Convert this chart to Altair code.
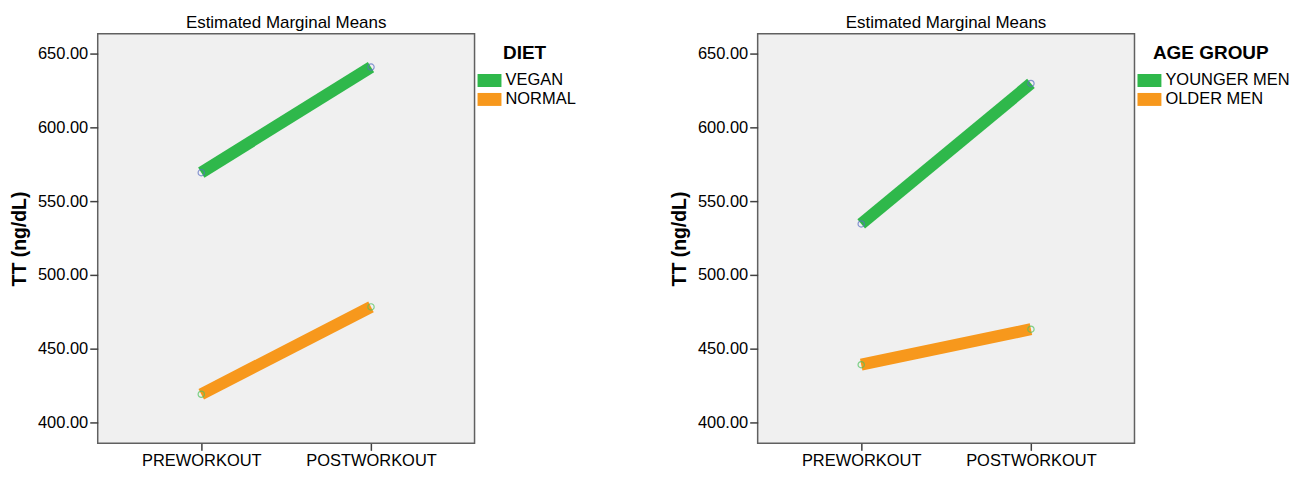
import altair as alt
import pandas as pd

# ---- data ----
times = ["PREWORKOUT", "POSTWORKOUT"]

diet_groups = ["VEGAN", "NORMAL"]
vegan_tt = [569.2, 640.6]
normal_tt = [419.3, 478.4]

age_groups = ["YOUNGER MEN", "OLDER MEN"]
younger_tt = [534.5, 629.5]
older_tt = [439.3, 463.3]

y_ticks = [400, 450, 500, 550, 600, 650]
y_domain = [386.1, 663.2]

line_colors = ["#2fb84b", "#f7981c"]
marker_colors = ["#5a6ec4", "#4fc35c"]

FONT = "Liberation Sans"
W, H = 378, 411


def make_df(groups, series):
    rows = []
    for g, vals in zip(groups, series):
        for t, v in zip(times, vals):
            rows.append({"time": t, "group": g, "tt": v})
    return pd.DataFrame(rows)


def panel(df, groups, legend_title, title_off):
    origin = title_off - 1.5
    x = alt.X(
        "time:N",
        sort=times,
        scale=alt.Scale(type="point", padding=0.61),
        axis=alt.Axis(
            title=None, labelAngle=0, domain=False, ticks=True, tickSize=7,
            tickColor="#404040", tickWidth=1.5, labelPadding=2,
            labelFont=FONT, labelFontSize=16.5, labelColor="black", grid=False,
        ),
    )
    y = alt.Y(
        "tt:Q",
        scale=alt.Scale(domain=y_domain, nice=False, zero=False),
        axis=alt.Axis(
            title="TT (ng/dL)", values=y_ticks, format=".2f", domain=False,
            tickSize=8, tickColor="#404040", tickWidth=1.5, labelPadding=2,
            labelFont=FONT, labelFontSize=16.5, labelColor="black", grid=False,
            titleFont=FONT, titleFontSize=19.5, titleFontWeight="bold",
            titleColor="black", titlePadding=8,
        ),
    )
    # invisible filled layer that carries the legend (filled rectangles)
    legend_src = alt.Chart(df).mark_point(filled=True, opacity=0, shape="square").encode(
        x=x,
        y=y,
        fill=alt.Fill(
            "group:N",
            sort=groups,
            scale=alt.Scale(domain=groups, range=line_colors),
            legend=alt.Legend(
                title=legend_title,
                orient="none", legendX=W + origin, legendY=10, padding=0,
                rowPadding=0, symbolType="M-1.2,-0.65H1.2V0.65H-1.2Z",
                symbolSize=400, symbolStrokeWidth=0, symbolOpacity=1,
                symbolOffset={"expr": str(15 - origin - 10)},
                labelOffset=6,
                titlePadding=8,
                titleFont=FONT, titleFontSize=19, titleFontWeight="bold",
                titleColor="black", labelFont=FONT, labelFontSize=16.5,
                labelColor="black",
            ),
        ),
    )
    lines = alt.Chart(df).mark_line(strokeWidth=12, strokeCap="butt").encode(
        x=x,
        y=y,
        color=alt.Color(
            "group:N",
            sort=groups,
            scale=alt.Scale(domain=groups, range=line_colors),
            legend=None,
        ),
    )
    pts = alt.Chart(df).mark_point(shape="circle", filled=False, size=40, strokeWidth=1.2).encode(
        x=x,
        y=y,
        stroke=alt.Stroke(
            "group:N",
            sort=groups,
            scale=alt.Scale(domain=groups, range=marker_colors),
            legend=None,
        ),
    )
    return alt.layer(legend_src, lines, pts).properties(
        width=W,
        height=H,
        title=alt.TitleParams(
            "Estimated Marginal Means", font=FONT, fontSize=17,
            fontWeight="normal", color="black", anchor="middle", offset=2,
        ),
    )


left = panel(make_df(diet_groups, [vegan_tt, normal_tt]), diet_groups, "DIET", 30)
right = panel(make_df(age_groups, [younger_tt, older_tt]), age_groups, "AGE GROUP", 20)

chart = (
    alt.hconcat(left, right, spacing=90)
    .resolve_scale(color="independent", stroke="independent", fill="independent",
                   y="independent")
    .properties(padding={"left": 0, "top": 4, "right": 0, "bottom": 0})
    .configure_view(fill="#f0f0f0", stroke="#606060", strokeWidth=1.5)
)

chart.save("out.html", embed_options={"renderer": "svg", "actions": False})
